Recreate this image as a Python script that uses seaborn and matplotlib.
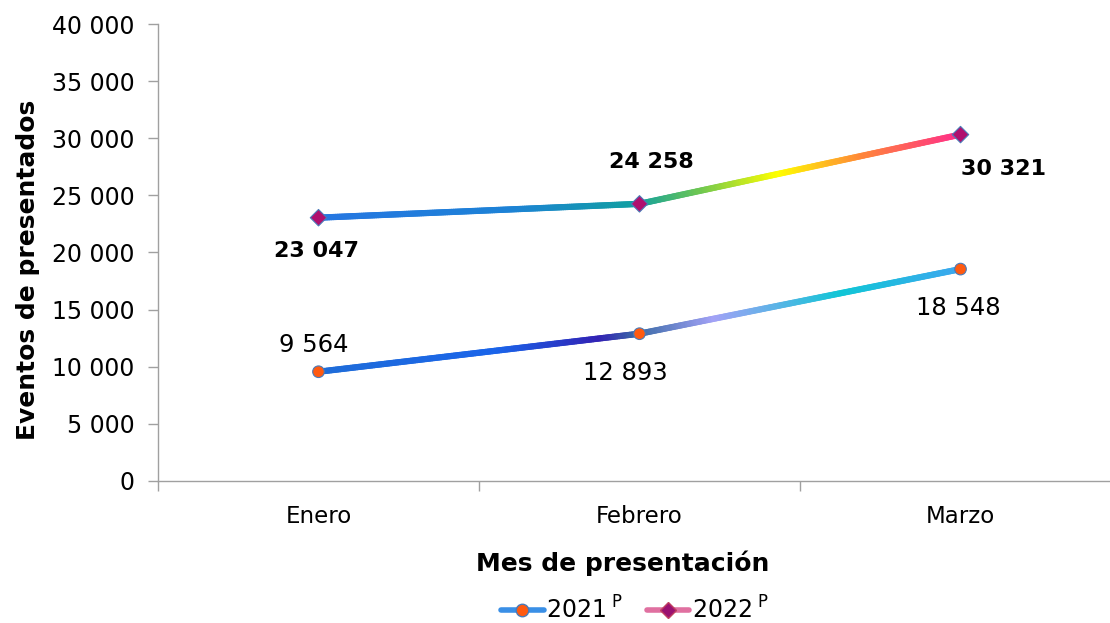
import numpy as np
import pandas as pd
import matplotlib
matplotlib.use("Agg")
import matplotlib.pyplot as plt
import seaborn as sns
from matplotlib.collections import LineCollection
from matplotlib.colors import LinearSegmentedColormap
from matplotlib.lines import Line2D
from matplotlib.ticker import FuncFormatter, FixedLocator

meses = ["Enero", "Febrero", "Marzo"]
eventos_2021 = [9564, 12893, 18548]
eventos_2022 = [23047, 24258, 30321]
y_ticks = [0, 5000, 10000, 15000, 20000, 25000, 30000, 35000, 40000]

df = pd.DataFrame({
    "mes": meses * 2,
    "eventos": eventos_2021 + eventos_2022,
    "serie": ["2021"] * 3 + ["2022"] * 3,
})

sns.set_style("white")
plt.rcParams["font.family"] = ["DejaVu Sans"]
plt.rcParams["text.color"] = "black"
plt.rcParams["axes.labelcolor"] = "black"
plt.rcParams["xtick.color"] = "black"
plt.rcParams["ytick.color"] = "black"

fig = plt.figure(figsize=(11.1, 6.23), dpi=100)
ax = fig.add_axes([158 / 1110, (623 - 481) / 623, (1110 - 158) / 1110, 457 / 623])

# markers through seaborn, gradient lines drawn underneath
sns.scatterplot(data=df, x="mes", y="eventos", hue="serie", style="serie",
                markers={"2021": "o", "2022": "D"},
                palette={"2021": "#ff5a10", "2022": "#b0106e"},
                s=70, edgecolor="#4a7ab8", linewidth=0.8, legend=False,
                zorder=5, ax=ax)
for coll, ec in zip(ax.collections, ["#4a7ab8", "#c04060"]):
    coll.set_edgecolor(ec)

cmap21 = LinearSegmentedColormap.from_list("c21", [
    (0.0, "#1f6dd8"), (0.28, "#1a64ea"), (0.44, "#3222b4"), (0.5, "#3a6aa6"),
    (0.62, "#a2a2f6"), (0.82, "#10c6d6"), (1.0, "#3ca8ee")])
cmap22 = LinearSegmentedColormap.from_list("c22", [
    (0.0, "#2676e2"), (0.3, "#1d82d6"), (0.5, "#10a0a0"), (0.6, "#70c850"),
    (0.72, "#ffff00"), (0.85, "#ff8838"), (1.0, "#ff3088")])


def gradient_line(vals, cmap):
    x = np.arange(len(vals), dtype=float)
    y = np.array(vals, dtype=float)
    xs = np.linspace(x[0], x[-1], 300)
    ys = np.interp(xs, x, y)
    pts = np.column_stack([xs, ys]).reshape(-1, 1, 2)
    segs = np.concatenate([pts[:-1], pts[1:]], axis=1)
    lc = LineCollection(segs, cmap=cmap, linewidth=4.5, capstyle="round", zorder=3)
    lc.set_array((xs[:-1] + xs[1:]) / 2 / x[-1])
    ax.add_collection(lc)


gradient_line(eventos_2021, cmap21)
gradient_line(eventos_2022, cmap22)

# data labels
off21 = [(-5, 27), (-14, -39), (-2, -39)]
off22 = [(-2, -33), (12, 42), (43, -34)]
for i, (v, o) in enumerate(zip(eventos_2021, off21)):
    ax.annotate(f"{v:,}".replace(",", " "), (i, v), xytext=o, textcoords="offset pixels",
                ha="center", va="center", fontsize=17.5, color="black")
for i, (v, o) in enumerate(zip(eventos_2022, off22)):
    ax.annotate(f"{v:,}".replace(",", " "), (i, v), xytext=o, textcoords="offset pixels",
                ha="center", va="center", fontsize=16, fontweight="bold", color="black")

ax.set_ylim(0, 40000)
ax.set_xlim(-0.5, (1110 - 158) / 321 - 0.5)
ax.set_yticks(y_ticks)
ax.yaxis.set_major_formatter(FuncFormatter(lambda v, p: f"{int(v):,}".replace(",", " ")))
ax.set_xticks(range(len(meses)))
ax.set_xticklabels(meses)
ax.xaxis.set_minor_locator(FixedLocator([-0.5, 0.5, 1.5]))
ax.tick_params(axis="x", which="major", length=0, labelsize=16.5, pad=17)
ax.tick_params(axis="x", which="minor", length=7, color="#a0a0a0", width=1, direction="out", bottom=True)
ax.tick_params(axis="y", length=7, color="#a0a0a0", width=1, direction="out", left=True,
               labelsize=17, labelcolor="black", pad=10)
ax.tick_params(axis="x", labelcolor="black")

for side in ["top", "right"]:
    ax.spines[side].set_visible(False)
for side in ["left", "bottom"]:
    ax.spines[side].set_color("#a0a0a0")
    ax.spines[side].set_linewidth(1)

ax.set_xlabel("Mes de presentación", fontsize=18, fontweight="bold")
ax.set_ylabel("Eventos de presentados", fontsize=18, fontweight="bold")
ax.xaxis.set_label_coords(0.488, -0.152)
ax.yaxis.set_label_coords(-0.1235, 0.462)

handles = [
    Line2D([], [], color="#3a8fe6", lw=4, marker="o", markersize=9,
           markerfacecolor="#ff5a10", markeredgecolor="#4a7ab8"),
    Line2D([], [], color="#e070a0", lw=4, marker="D", markersize=8,
           markerfacecolor="#9a1070", markeredgecolor="#c04060"),
]
fig.legend(handles, [r"2021$^{\ \mathrm{P}}$", r"2022$^{\ \mathrm{P}}$"], loc="lower center",
           bbox_to_anchor=(0.572, -0.035), ncol=2, frameon=False, fontsize=17,
           handlelength=1.8, handletextpad=0.1, columnspacing=1.0)

fig.savefig("out.png", dpi=100)
